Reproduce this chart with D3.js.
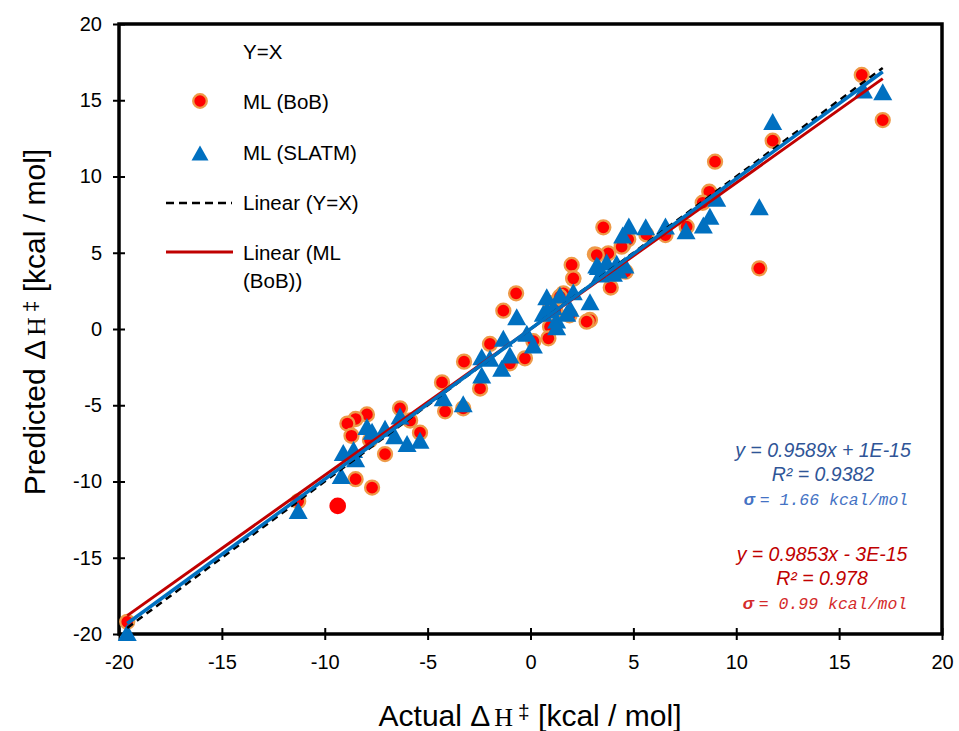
<!DOCTYPE html>
<html><head><meta charset="utf-8">
<script src="https://cdn.jsdelivr.net/npm/d3@7"></script>
<style>body{margin:0;background:#fff;} svg{display:block;}</style>
</head><body>
<svg id="c" width="959" height="731"></svg>
<script>
const xTicks = [-20,-15,-10,-5,0,5,10,15,20];
const yTicks = [-20,-15,-10,-5,0,5,10,15,20];

// ML (BoB): [actual, predicted]
const bobX = [16.1,17.12,11.77,8.97,8.69,8.37,11.12,3.54,5.63,6.56,7.59,4.5,4.75,4.43,3.13,3.78,2.0,2.08,3.9,4.62,2.89,2.73,0.95,
  -0.7,-1.32,-1.97,-3.23,-4.3,-2.45,-0.27,0.87,0.14,1.6,2.08,-1.0,0.95,1.43,3.22,1.2,1.9,
  -4.15,-3.27,-6.34,-7.95,-8.5,-8.9,-8.7,-5.85,-5.37,-7.8,-7.07,-8.5,-7.7,-11.29,-19.6];
const bobY = [16.66,13.7,12.35,10.97,9.0,8.28,3.98,6.67,6.2,6.16,6.71,5.5,5.88,5.4,4.9,4.96,4.2,3.3,2.72,3.76,0.59,0.48,0.15,
  2.34,1.2,-0.98,-2.14,-3.5,-3.9,-1.92,-0.61,-0.8,2.34,3.32,-2.25,1.69,2.12,4.85,1.2,0.9,
  -5.4,-5.2,-5.2,-5.6,-5.9,-6.2,-7.0,-6.0,-6.8,-7.3,-8.2,-9.85,-10.4,-11.3,-19.2];
// lone marker without outline
const bobPlainX = [-9.37];
const bobPlainY = [-11.6];

// ML (SLATM)
const slatmX = [16.18,17.12,11.77,11.12,9.05,8.72,8.4,7.56,6.56,5.6,4.78,4.48,4.27,3.3,3.7,4.19,4.03,4.59,3.22,3.4,
  0.79,1.43,2.08,1.11,1.92,2.89,0.62,1.27,0.79,1.27,1.76,-0.67,-1.32,-2.37,-1.97,-1.0,-1.4,-2.37,-0.18,0.14,
  -4.24,-3.27,-7.95,-7.7,-7.07,-6.34,-6.6,-6.0,-5.37,-9.1,-8.6,-8.5,-9.2,-11.29,-19.6];
const slatmY = [15.67,15.56,13.6,8.02,8.57,7.4,6.82,6.45,6.75,6.71,6.75,6.16,3.87,4.1,4.4,4.31,3.65,4.2,4.2,3.6,
  2.12,2.23,2.45,1.46,1.36,1.79,1.03,0.59,1.25,0.15,1.03,0.81,-0.61,-1.82,-1.92,-1.7,-2.58,-3.02,-0.28,-1.05,
  -4.5,-4.9,-6.4,-6.7,-6.5,-5.7,-7.0,-7.5,-7.3,-8.1,-7.9,-8.5,-9.6,-11.9,-19.9];

const lineRange = [-19.6, 17.12];
const slopeYX = 1, slopeRed = 0.9589, slopeBlue = 0.9853;

const blueEq = ["y = 0.9589x + 1E-15", "R² = 0.9382", "= 1.66 kcal/mol"];
const redEq = ["y = 0.9853x - 3E-15", "R² = 0.978", "= 0.99 kcal/mol"];

const svg = d3.select("#c");
const x = d3.scaleLinear().domain([-20,20]).range([119,942]);
const y = d3.scaleLinear().domain([-20,20]).range([634,24]);
const F = "'Liberation Sans', Arial, sans-serif";

// axes
const gx = svg.append("g").attr("transform","translate(0,634)")
  .call(d3.axisBottom(x).tickValues(xTicks).tickSize(12).tickPadding(10).tickFormat(d=>String(d)));
gx.select(".domain").remove();
gx.selectAll(".tick line").attr("y1",-6).attr("y2",6).attr("stroke","#000").attr("stroke-width",2);
gx.selectAll(".tick text").attr("font-family",F).attr("font-size",20).attr("fill","#000").attr("dy","0.71em").attr("y",21);

const gy = svg.append("g").attr("transform","translate(119,0)")
  .call(d3.axisLeft(y).tickValues(yTicks).tickSize(12).tickPadding(10).tickFormat(d=>String(d)));
gy.select(".domain").remove();
gy.selectAll(".tick line").attr("x1",-6).attr("x2",6).attr("stroke","#000").attr("stroke-width",2);
gy.selectAll(".tick text").attr("font-family",F).attr("font-size",20).attr("fill","#000").attr("x",-17);

// frame
svg.append("rect").attr("x",119).attr("y",24).attr("width",823).attr("height",610)
  .attr("fill","none").attr("stroke","#000").attr("stroke-width",3.5);

// markers
const orange = "#EE9A48";
svg.append("g").selectAll("circle").data(d3.range(bobX.length)).join("circle")
  .attr("cx",i=>x(bobX[i])).attr("cy",i=>y(bobY[i])).attr("r",7)
  .attr("fill","#FF0000").attr("stroke",orange).attr("stroke-width",2.3);
svg.append("g").selectAll("circle").data(d3.range(bobPlainX.length)).join("circle")
  .attr("cx",i=>x(bobPlainX[i])).attr("cy",i=>y(bobPlainY[i])).attr("r",8.3).attr("fill","#FF0000");

const tri = (w,h)=>`M0,${-h/2}L${w/2},${h/2}L${-w/2},${h/2}Z`;
svg.append("g").selectAll("path").data(d3.range(slatmX.length)).join("path")
  .attr("d",tri(19,17)).attr("fill","#0070C0")
  .attr("transform",i=>`translate(${x(slatmX[i])},${y(slatmY[i])})`);

// lines
const ln = d3.line().x(d=>x(d[0])).y(d=>y(d[1]));
const seg = s => lineRange.map(v=>[v, s*v]);
svg.append("path").attr("d",ln(seg(slopeYX))).attr("stroke","#000").attr("stroke-width",2.5)
  .attr("stroke-dasharray","7,5").attr("fill","none");
svg.append("path").attr("d",ln(seg(slopeRed))).attr("stroke","#C00000").attr("stroke-width",3).attr("fill","none");
svg.append("path").attr("d",ln(seg(slopeBlue))).attr("stroke","#0070C0").attr("stroke-width",3.5).attr("fill","none");

// legend
const lg = svg.append("g").attr("font-family",F).attr("font-size",20.5).attr("fill","#000");
lg.append("text").attr("x",243).attr("y",59).text("Y=X");
lg.append("circle").attr("cx",200).attr("cy",101).attr("r",6.8).attr("fill","#FF0000").attr("stroke",orange).attr("stroke-width",2.3);
lg.append("text").attr("x",243).attr("y",109).text("ML (BoB)");
lg.append("path").attr("d",tri(17,15)).attr("fill","#0070C0").attr("transform","translate(200,153)");
lg.append("text").attr("x",243).attr("y",160).text("ML (SLATM)");
lg.append("line").attr("x1",166).attr("x2",232).attr("y1",203).attr("y2",203).attr("stroke","#000").attr("stroke-width",2.3).attr("stroke-dasharray","8,5");
lg.append("text").attr("x",243).attr("y",210).text("Linear (Y=X)");
lg.append("line").attr("x1",166).attr("x2",233).attr("y1",252).attr("y2",252).attr("stroke","#C00000").attr("stroke-width",3);
lg.append("text").attr("x",243).attr("y",260).text("Linear (ML");
lg.append("text").attr("x",243).attr("y",288).text("(BoB))");

// annotations
function eq(lines, cx, y0, c1, c2){
  const g = svg.append("g").attr("text-anchor","middle");
  g.append("text").attr("x",cx).attr("y",y0).attr("font-family",F).attr("font-style","italic").attr("font-size",19.5).attr("fill",c1).text(lines[0]);
  g.append("text").attr("x",cx).attr("y",y0+24).attr("font-family",F).attr("font-style","italic").attr("font-size",19.5).attr("fill",c1).text(lines[1]);
  const t = g.append("text").attr("x",cx+3).attr("y",y0+48).attr("fill",c2);
  t.append("tspan").attr("font-family",F).attr("font-style","italic").attr("font-weight","bold").attr("font-size",17).text("σ ");
  t.append("tspan").attr("font-family","'Liberation Mono', monospace").attr("font-style","italic").attr("font-size",16.5).text(lines[2]);
}
eq(blueEq, 823, 457, "#2F5597", "#4472C4");
eq(redEq, 822, 561, "#C00000", "#D42A2A");

// axis titles
function title(sel, lead){
  sel.append("tspan").text(lead + " Δ");
  sel.append("tspan").attr("font-family","'Liberation Serif', serif").attr("font-size",26).attr("dx",4).text("H");
  sel.append("tspan").attr("font-size",21).attr("dx",5).attr("dy",-7).text("‡");
  sel.append("tspan").attr("dy",7).text(" [kcal / mol]");
}
const xt = svg.append("text").attr("x",530).attr("y",726).attr("text-anchor","middle")
  .attr("font-family",F).attr("font-size",30).attr("fill","#000");
title(xt, "Actual");
const yt = svg.append("text").attr("transform","translate(45,322) rotate(-90)").attr("text-anchor","middle")
  .attr("font-family",F).attr("font-size",30).attr("fill","#000");
title(yt, "Predicted");
</script>
</body></html>
